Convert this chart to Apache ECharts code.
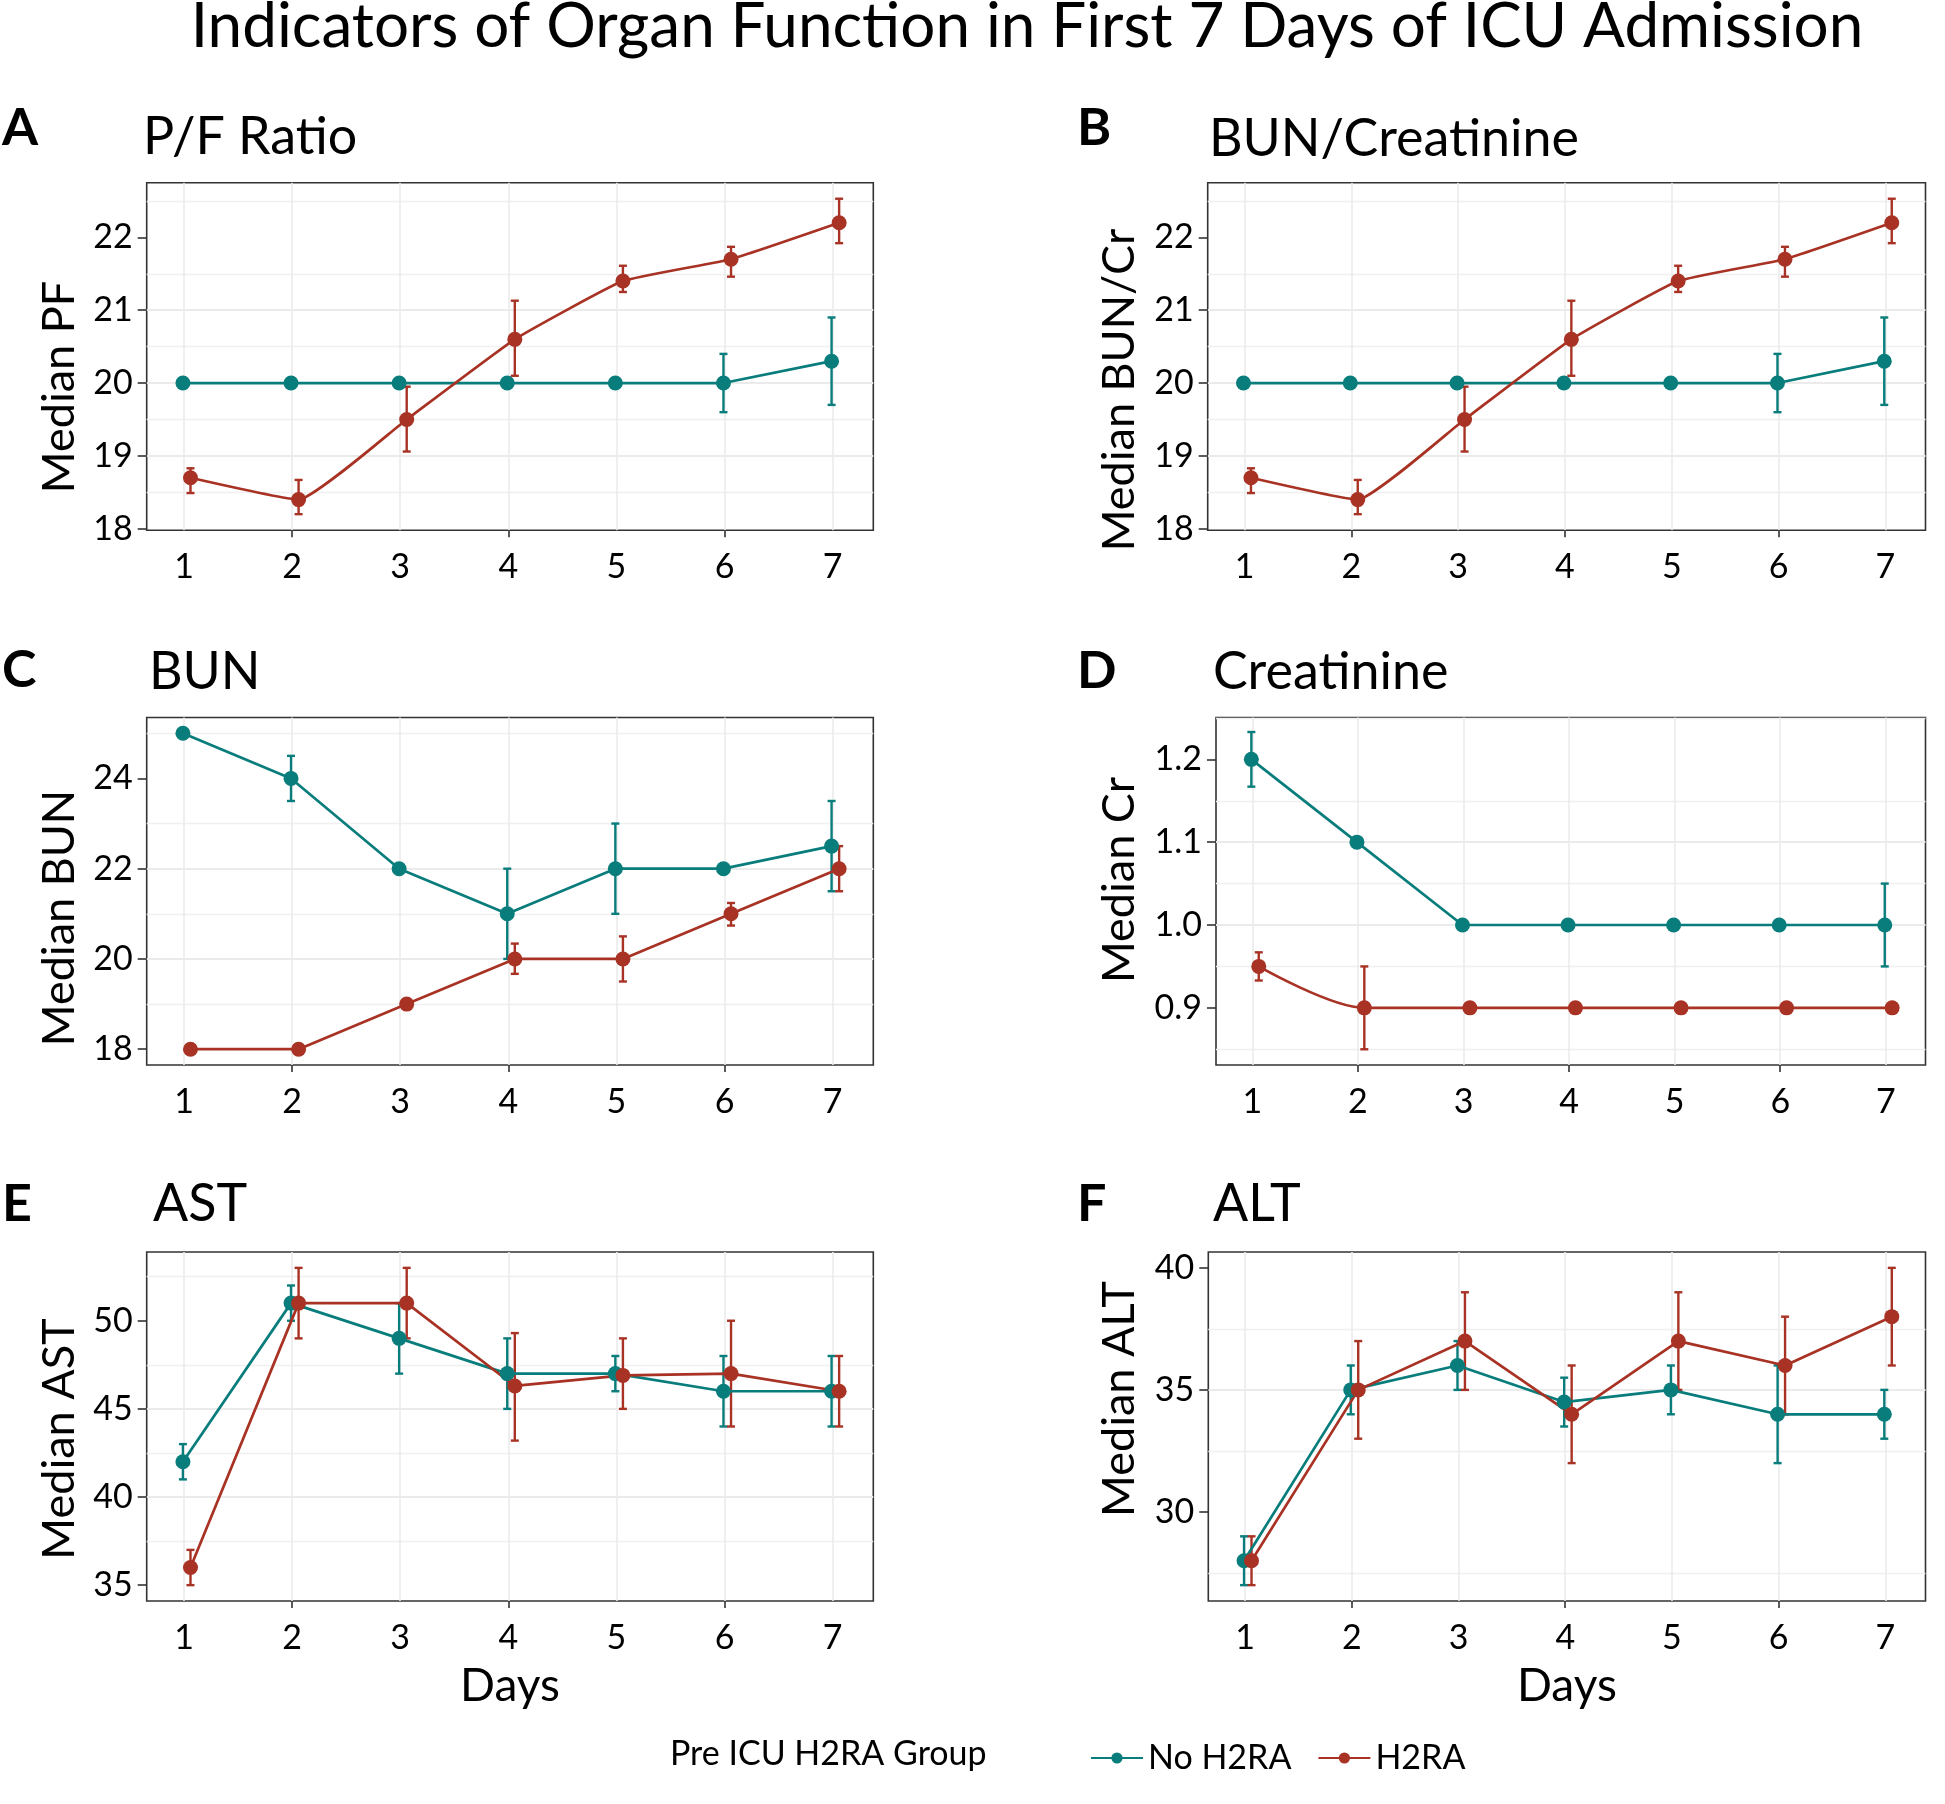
<!DOCTYPE html>
<html>
<head>
<meta charset="utf-8">
<script src="https://cdn.jsdelivr.net/npm/echarts@6/dist/echarts.min.js"></script>
<style>
html,body{margin:0;padding:0;background:#fff;}
#chart{width:1945px;height:1804px;}
</style>
</head>
<body>
<div id="chart"></div>
<script>
// ---------- DATA ----------
const days = [1, 2, 3, 4, 5, 6, 7];
const groupNames = ['No H2RA', 'H2RA'];

// A: P/F Ratio
const pfNo     = [20, 20, 20, 20, 20, 20, 20.3];
const pfNoLo   = [null, null, null, null, null, 19.6, 19.7];
const pfNoHi   = [null, null, null, null, null, 20.4, 20.9];
const pfH2     = [18.7, 18.4, 19.5, 20.6, 21.4, 21.7, 22.2];
const pfH2Lo   = [18.49, 18.2, 19.06, 20.1, 21.25, 21.46, 21.92];
const pfH2Hi   = [18.83, 18.67, 19.95, 21.13, 21.61, 21.87, 22.53];
const pfTicks  = [18, 19, 20, 21, 22];

// B: BUN/Creatinine
const bcNo     = [20, 20, 20, 20, 20, 20, 20.3];
const bcNoLo   = [null, null, null, null, null, 19.6, 19.7];
const bcNoHi   = [null, null, null, null, null, 20.4, 20.9];
const bcH2     = [18.7, 18.4, 19.5, 20.6, 21.4, 21.7, 22.2];
const bcH2Lo   = [18.49, 18.2, 19.06, 20.1, 21.25, 21.46, 21.92];
const bcH2Hi   = [18.83, 18.67, 19.95, 21.13, 21.61, 21.87, 22.53];
const bcTicks  = [18, 19, 20, 21, 22];

// C: BUN
const bunNo    = [25, 24, 22, 21, 22, 22, 22.5];
const bunNoLo  = [null, 23.5, null, 20, 21, null, 21.5];
const bunNoHi  = [null, 24.5, null, 22, 23, null, 23.5];
const bunH2    = [18, 18, 19, 20, 20, 21, 22];
const bunH2Lo  = [null, null, null, 19.67, 19.5, 20.74, 21.5];
const bunH2Hi  = [null, null, null, 20.34, 20.5, 21.24, 22.5];
const bunTicks = [18, 20, 22, 24];

// D: Creatinine
const crNo     = [1.2, 1.1, 1.0, 1.0, 1.0, 1.0, 1.0];
const crNoLo   = [1.167, null, null, null, null, null, 0.95];
const crNoHi   = [1.233, null, null, null, null, null, 1.05];
const crH2     = [0.95, 0.9, 0.9, 0.9, 0.9, 0.9, 0.9];
const crH2Lo   = [0.933, 0.85, null, null, null, null, null];
const crH2Hi   = [0.967, 0.95, null, null, null, null, null];
const crTicks  = [0.9, 1.0, 1.1, 1.2];

// E: AST
const astNo    = [42, 51, 49, 47, 47, 46, 46];
const astNoLo  = [41, 50, 47, 45, 46, 44, 44];
const astNoHi  = [43, 52, 51, 49, 48, 48, 48];
const astH2    = [36, 51, 51, 46.3, 46.9, 47, 46];
const astH2Lo  = [35, 49, 49, 43.2, 45, 44, 44];
const astH2Hi  = [37, 53, 53, 49.3, 49, 50, 48];
const astTicks = [35, 40, 45, 50];

// F: ALT
const altNo    = [28, 35, 36, 34.5, 35, 34, 34];
const altNoLo  = [27, 34, 35, 33.5, 34, 32, 33];
const altNoHi  = [29, 36, 37, 35.5, 36, 36, 35];
const altH2    = [28, 35, 37, 34, 37, 36, 38];
const altH2Lo  = [27, 33, 35, 32, 35, 34, 36];
const altH2Hi  = [29, 37, 39, 36, 39, 38, 40];
const altTicks = [30, 35, 40];

// ---------- STYLE / LAYOUT ----------
const TEAL = '#087d7b';
const RED = '#a83224';
const FONT = 'Lato';
const DODGE = [-0.01, 0.06];
const X_MIN = 0.655, X_MAX = 7.376;
const LEFT_COL = 146.7, LEFT_W = 726.6;
const ROWS = [{top: 182.7, h: 347.5}, {top: 717.5, h: 347.5}, {top: 1252, h: 349}];

const panels = [
  {letter: 'A', title: 'P/F Ratio', yName: 'Median PF', no: [pfNo, pfNoLo, pfNoHi], h2: [pfH2, pfH2Lo, pfH2Hi],
   ticks: pfTicks, yMin: 17.98, yMax: 22.75, step: 1, dec: 0, smooth: 0.12,
   grid: {left: LEFT_COL, top: ROWS[0].top, width: LEFT_W, height: ROWS[0].h},
   letterPos: [2, 128], titlePos: [143, 137], yNamePos: [59, 387]},
  {letter: 'B', title: 'BUN/Creatinine', yName: 'Median BUN/Cr', no: [bcNo, bcNoLo, bcNoHi], h2: [bcH2, bcH2Lo, bcH2Hi],
   ticks: bcTicks, yMin: 17.98, yMax: 22.75, step: 1, dec: 0, smooth: 0.12,
   grid: {left: 1207.7, top: ROWS[0].top, width: 1925.5 - 1207.7, height: ROWS[0].h},
   letterPos: [1077, 128], titlePos: [1209, 139], yNamePos: [1119, 390]},
  {letter: 'C', title: 'BUN', yName: 'Median BUN', no: [bunNo, bunNoLo, bunNoHi], h2: [bunH2, bunH2Lo, bunH2Hi],
   ticks: bunTicks, yMin: 17.65, yMax: 25.35, step: 2, dec: 0, smooth: false,
   grid: {left: LEFT_COL, top: ROWS[1].top, width: LEFT_W, height: ROWS[1].h},
   letterPos: [2, 670], titlePos: [149, 672], yNamePos: [59, 918]},
  {letter: 'D', title: 'Creatinine', yName: 'Median Cr', no: [crNo, crNoLo, crNoHi], h2: [crH2, crH2Lo, crH2Hi],
   ticks: crTicks, yMin: 0.831, yMax: 1.2505, step: 0.1, dec: 1, smooth: 0.3,
   grid: {left: 1216, top: ROWS[1].top, width: 1925.5 - 1216, height: ROWS[1].h},
   letterPos: [1077, 671], titlePos: [1213, 672], yNamePos: [1119, 880]},
  {letter: 'E', title: 'AST', yName: 'Median AST', no: [astNo, astNoLo, astNoHi], h2: [astH2, astH2Lo, astH2Hi],
   ticks: astTicks, yMin: 34.1, yMax: 53.9, step: 5, dec: 0, smooth: false, xName: 'Days',
   grid: {left: LEFT_COL, top: ROWS[2].top, width: LEFT_W, height: ROWS[2].h},
   letterPos: [2, 1204], titlePos: [153, 1204], yNamePos: [59, 1439]},
  {letter: 'F', title: 'ALT', yName: 'Median ALT', no: [altNo, altNoLo, altNoHi], h2: [altH2, altH2Lo, altH2Hi],
   ticks: altTicks, yMin: 26.35, yMax: 40.65, step: 5, dec: 0, smooth: false, xName: 'Days',
   grid: {left: 1208.3, top: ROWS[2].top, width: 1925.5 - 1208.3, height: ROWS[2].h},
   letterPos: [1077, 1204], titlePos: [1213, 1204], yNamePos: [1119, 1399]}
];

// ---------- BUILD OPTION ----------
const grids = [], xAxes = [], yAxes = [], series = [], graphics = [];

graphics.push({type: 'text', x: 1027, y: 27, style: {text: 'Indicators of Organ Function in First 7 Days of ICU Admission',
  fontFamily: FONT, fontSize: 62, fill: '#000', align: 'center', verticalAlign: 'middle'}});

panels.forEach((p, i) => {
  grids.push(Object.assign({show: true, borderColor: '#333', borderWidth: 1.6, backgroundColor: '#fff', containLabel: false}, p.grid));
  // main x axis (labels + ticks)
  xAxes.push({
    gridIndex: i, type: 'value', position: 'bottom', min: X_MIN, max: X_MAX, minInterval: 1, maxInterval: 1,
    axisLine: {show: false},
    axisTick: {show: true, customValues: [2, 4, 6], length: 7, lineStyle: {color: '#333', width: 1.6}},
    axisLabel: {show: true, customValues: days, fontFamily: FONT, fontSize: 34, color: '#000', margin: 20},
    splitLine: {show: false},
    name: p.xName || '', nameLocation: 'middle', nameGap: 62,
    nameTextStyle: {fontFamily: FONT, fontSize: 46, color: '#000'}
  });
  // vertical grid lines axis
  xAxes.push({
    gridIndex: i, type: 'value', position: 'bottom', min: X_MIN, max: X_MAX, minInterval: 1, maxInterval: 1,
    axisLine: {show: false}, axisTick: {show: false}, axisLabel: {show: false},
    splitLine: {show: true, showMinLine: false, showMaxLine: false, lineStyle: {color: '#ebebeb', width: 1.6}}
  });
  yAxes.push({
    gridIndex: i, type: 'value', min: p.yMin, max: p.yMax, minInterval: p.step, maxInterval: p.step,
    axisLine: {show: false},
    axisTick: {show: true, customValues: p.ticks, length: 9, lineStyle: {color: '#333', width: 1.6}},
    axisLabel: {show: true, customValues: p.ticks, fontFamily: FONT, fontSize: 34, color: '#000', margin: 14,
      formatter: v => Number(v).toFixed(p.dec)},
    splitLine: {show: true, showMinLine: false, showMaxLine: false, lineStyle: {color: '#ebebeb', width: 2.2}},
    minorTick: {show: false, splitNumber: 2},
    minorSplitLine: {show: true, lineStyle: {color: '#f0f0f0', width: 1.4}}
  });

  const groups = [p.no, p.h2];
  const colors = [TEAL, RED];
  // error bars
  groups.forEach((g, gi) => {
    const lo = g[1], hi = g[2];
    const data = [];
    days.forEach((d, k) => { if (lo[k] != null && hi[k] != null) data.push([d + DODGE[gi], lo[k], hi[k]]); });
    series.push({
      type: 'custom', xAxisIndex: i * 2, yAxisIndex: i, z: 2, silent: true,
      encode: {x: 0, y: [1, 2]},
      data: data,
      renderItem: (params, api) => {
        const x = api.value(0);
        const a = api.coord([x, api.value(1)]);
        const b = api.coord([x, api.value(2)]);
        const cw = 4;
        const st = {stroke: colors[gi], lineWidth: 2.4};
        return {type: 'group', children: [
          {type: 'line', shape: {x1: a[0], y1: a[1], x2: b[0], y2: b[1]}, style: st},
          {type: 'line', shape: {x1: a[0] - cw, y1: a[1], x2: a[0] + cw, y2: a[1]}, style: st},
          {type: 'line', shape: {x1: b[0] - cw, y1: b[1], x2: b[0] + cw, y2: b[1]}, style: st}
        ]};
      }
    });
  });
  // lines + points
  groups.forEach((g, gi) => {
    series.push({
      type: 'line', name: groupNames[gi], xAxisIndex: i * 2, yAxisIndex: i, z: 3,
      data: days.map((d, k) => [d + DODGE[gi], g[0][k]]),
      symbol: 'circle', symbolSize: 15, showAllSymbol: true,
      smooth: (gi === 1 && p.smooth) ? p.smooth : false,
      lineStyle: {color: colors[gi], width: 2.7},
      itemStyle: {color: colors[gi]},
      emphasis: {disabled: true}
    });
  });

  graphics.push({type: 'text', x: p.letterPos[0], y: p.letterPos[1], style: {text: p.letter, fontFamily: FONT,
    fontWeight: 'bold', fontSize: 52, fill: '#000', align: 'left', verticalAlign: 'middle'}});
  graphics.push({type: 'text', x: p.titlePos[0], y: p.titlePos[1], style: {text: p.title, fontFamily: FONT,
    fontSize: 52, fill: '#000', align: 'left', verticalAlign: 'middle'}});
  graphics.push({type: 'text', x: p.yNamePos[0], y: p.yNamePos[1], rotation: Math.PI / 2, style: {text: p.yName,
    fontFamily: FONT, fontSize: 45, fill: '#000', align: 'center', verticalAlign: 'middle'}});
});

graphics.push({type: 'text', x: 670, y: 1754, style: {text: 'Pre ICU H2RA Group', fontFamily: FONT, fontSize: 34,
  fill: '#000', align: 'left', verticalAlign: 'middle'}});

const option = {
  backgroundColor: '#fff',
  animation: false,
  grid: grids,
  xAxis: xAxes,
  yAxis: yAxes,
  series: series,
  graphic: graphics,
  legend: {
    data: groupNames, left: 1085, top: 1736, itemWidth: 52, itemHeight: 14, itemGap: 26,
    textStyle: {fontFamily: FONT, fontSize: 34, color: '#000'}, selectedMode: false
  }
};

const chart = echarts.init(document.getElementById('chart'), null, {renderer: 'canvas'});
chart.setOption(option);
</script>
</body>
</html>
